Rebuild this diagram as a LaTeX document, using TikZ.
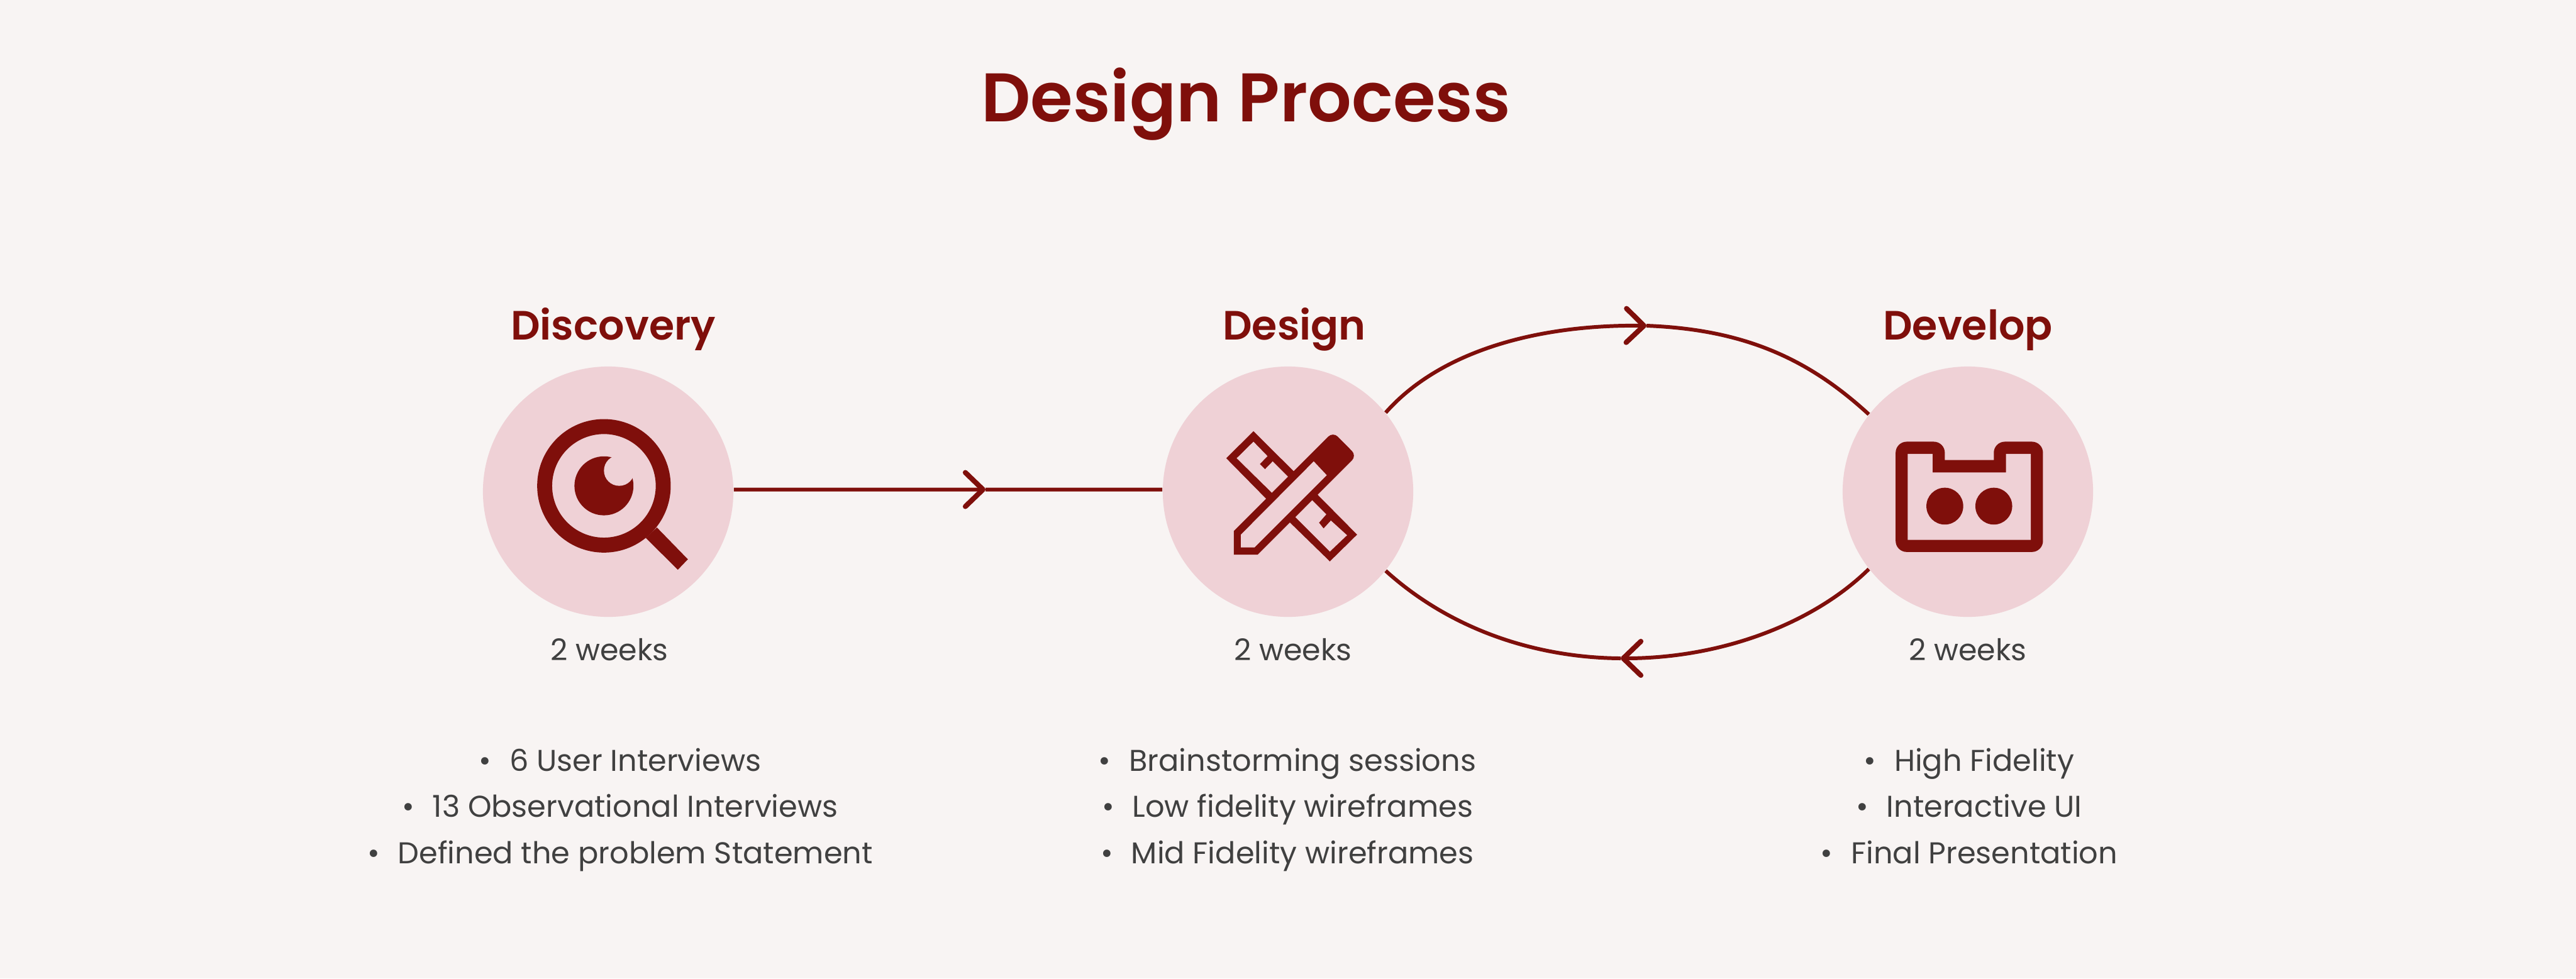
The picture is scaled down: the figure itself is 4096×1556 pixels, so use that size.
\documentclass[tikz,border=0pt]{standalone}
\usepackage{fontspec}
\setmainfont{Poppins}[BoldFont={Poppins SemiBold}]
\usetikzlibrary{arrows.meta}
\definecolor{pagecol}{HTML}{F8F4F3}
\definecolor{circlecol}{HTML}{EFD1D6}
\definecolor{darkcol}{HTML}{7F0F0B}
\definecolor{textcol}{HTML}{404040}
\tikzset{
  phase/.style={circle, fill=circlecol, minimum size=3.98cm, inner sep=0pt},
  heading/.style={text=darkcol, anchor=base, font=\fontsize{18.5}{23}\bfseries\selectfont},
  weeks/.style={text=textcol, anchor=base, font=\fontsize{13.5}{16}\selectfont},
  details/.style={text=textcol, align=center, anchor=base, font=\fontsize{13.6}{20.9}\selectfont},
  flow/.style={darkcol, line width=1.7pt},
  flowhead/.style={flow, -{Straight Barb[length=0.28cm, width=0.54cm, line width=2.3pt, round]}},
  icon/.style={x=0.003333cm, y=-0.003333cm}
}
\newcommand{\itembullet}{\textbullet\hspace{0.6em}}
\begin{document}
\begin{tikzpicture}[x=0.01cm, y=-0.01cm]
\fill[pagecol] (0,0) rectangle (4096,1556);

% Title
\node[text=darkcol, anchor=base, font=\fontsize{31.1}{38}\bfseries\selectfont] (title) at (1981,193) {Design Process};

% Three phases
\node[phase] (discovery) at (967,782) {};
\node[phase] (design) at (2048,782) {};
\node[phase] (develop) at (3129,782) {};

\node[heading] (discoveryhead) at (975,540) {Discovery};
\node[heading] (designhead) at (2058,540) {Design};
\node[heading] (develophead) at (3129,540) {Develop};

\node[weeks] (discoveryweeks) at (969,1050) {2 weeks};
\node[weeks] (designweeks) at (2056,1050) {2 weeks};
\node[weeks] (developweeks) at (3129,1050) {2 weeks};

% Connections
\coordinate (flowtip) at (1567,778.5);
\coordinate (toptip) at (2618,518);
\coordinate (bottomtip) at (2577,1047);
\draw[flowhead] (discovery.1) -- (flowtip);
\draw[flow] (flowtip) -- (design.179);
\draw[flowhead] (design.39) .. controls (2290,558) and (2445,516) .. (toptip);
\draw[flow] (toptip) .. controls (2780,524) and (2880,575) .. (develop.142);
\draw[flowhead] (develop.218) .. controls (2885,990) and (2740,1047) .. (bottomtip);
\draw[flow] (bottomtip) .. controls (2440,1046) and (2305,1000) .. (design.321);

% Magnifier icon
\begin{scope}[shift={(740,560)}, icon]
\fill[darkcol, even odd rule] (662,639) circle (319) (662,639) circle (247.5);
\fill[darkcol] (662,639) circle (141);
\fill[circlecol] (735,566) circle (73);
\fill[darkcol] (915,838) -- (1063,990) -- (1015,1040) -- (862,888) -- cycle;
\end{scope}

% Ruler and pencil icon
\begin{scope}[shift={(1830,560)}, icon]
\fill[darkcol] (490,378) -- (683,570) -- (552,702) -- (360,507) -- cycle;
\fill[circlecol] (490,428) -- (557,497) -- (520,535) -- (545,560) -- (582,522) -- (655,595) -- (578,672) -- (410,507) -- cycle;
\fill[darkcol] (795,680) -- (985,872) -- (855,1000) -- (662,812) -- cycle;
\fill[circlecol] (770,707) -- (838,775) -- (803,815) -- (825,843) -- (860,805) -- (937,875) -- (855,953) -- (690,788) -- cycle;
\fill[darkcol] (396,968) -- (396,855) -- (810,441) [rounded corners=3pt] -- (870,381) -- (983,495) [sharp corners] -- (510,968) -- cycle;
\fill[circlecol] (430,872) -- (778,522) -- (840,588) -- (495,933) -- (430,933) -- cycle;
\end{scope}

% Cartridge icon
\begin{scope}[shift={(2900,560)}, icon]
\fill[darkcol, rounded corners=5pt] (343,700) -- (343,428) -- (578,428) [sharp corners] -- (578,516) -- (812,516) [rounded corners=5pt] -- (812,428) -- (1047,428) -- (1047,955) -- (343,955) -- cycle;
\fill[circlecol] (401,486) -- (519,486) -- (519,575) -- (870,575) -- (870,486) -- (989,486) -- (989,897) -- (401,897) -- cycle;
\fill[darkcol] (578,736) circle (88);
\fill[darkcol] (812,736) circle (88);
\end{scope}

% Details
\node[details] (discoverylist) at (986,1373) {\itembullet 6 User Interviews\\
\itembullet 13 Observational Interviews\\
\itembullet Defined the problem Statement};
\node[details] (designlist) at (2047,1373) {\itembullet Brainstorming sessions\\
\itembullet Low fidelity wireframes\\
\itembullet Mid Fidelity wireframes};
\node[details] (developlist) at (3131,1373) {\itembullet High Fidelity\\
\itembullet Interactive UI\\
\itembullet Final Presentation};
\end{tikzpicture}
\end{document}
